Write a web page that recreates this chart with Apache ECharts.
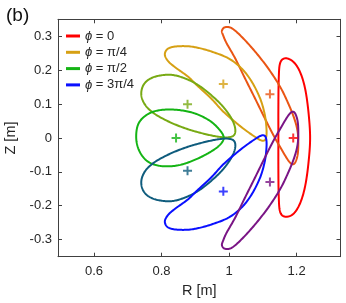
<!DOCTYPE html>
<html>
<head>
<meta charset="utf-8">
<script src="https://cdn.jsdelivr.net/npm/echarts@6/dist/echarts.min.js"></script>
<style>
html,body{margin:0;padding:0;background:#fff;}
#chart{width:346px;height:303px;}
</style>
</head>
<body>
<div id="chart"></div>
<script>
// ---- data (R [m], Z [m]) ----
const seriesNames = ['ϕ = 0','ϕ = π/8','ϕ = π/4','ϕ = 3π/8','ϕ = π/2','ϕ = 5π/8','ϕ = 3π/4','ϕ = 7π/8'];
const legendNames = ['ϕ = 0','ϕ = π/4','ϕ = π/2','ϕ = 3π/4'];
const colors = ['#ff0000','#ea5514','#d6a014','#78aa14','#14b414','#0f5c7d','#0a10ff','#7a1585'];

const loopPhi0 = [[1.146,0],[1.146,0.088],[1.147,0.172],[1.151,0.221],[1.166,0.236],[1.190,0.226],[1.210,0.196],[1.225,0.147],[1.235,0.078],[1.240,0],[1.235,-0.075],[1.225,-0.144],[1.210,-0.194],[1.190,-0.225],[1.166,-0.233],[1.151,-0.218],[1.147,-0.169],[1.146,-0.090]];
const loopPi8 = [[1.116,0.206],[1.151,0.152],[1.175,0.103],[1.193,0.058],[1.203,0.019],[1.205,-0.021],[1.202,-0.055],[1.192,-0.077],[1.178,-0.070],[1.156,-0.035],[1.131,0.009],[1.106,0.058],[1.077,0.117],[1.047,0.177],[1.018,0.236],[0.993,0.280],[0.982,0.305],[0.979,0.318],[0.988,0.328],[1.008,0.325],[1.037,0.300],[1.077,0.256]];
const loopPi4 = [[0.998,0.236],[1.037,0.206],[1.067,0.167],[1.092,0.117],[1.106,0.068],[1.111,0.024],[1.109,-0.001],[1.101,-0.008],[1.087,-0.003],[1.057,0.017],[1.027,0.040],[0.983,0.078],[0.947,0.117],[0.904,0.157],[0.878,0.182],[0.845,0.206],[0.822,0.225],[0.810,0.245],[0.816,0.262],[0.835,0.270],[0.870,0.272],[0.904,0.268],[0.948,0.256]];
const loop3Pi8 = [[0.829,0.187],[0.868,0.177],[0.908,0.157],[0.947,0.127],[0.982,0.093],[1.007,0.058],[1.018,0.029],[1.015,0.009],[0.997,0.002],[0.967,0.004],[0.928,0.012],[0.878,0.026],[0.829,0.045],[0.785,0.068],[0.758,0.090],[0.744,0.112],[0.740,0.134],[0.746,0.156],[0.762,0.173],[0.790,0.184]];
const loopPi2 = [[0.849,0.083],[0.898,0.073],[0.943,0.051],[0.972,0.024],[0.984,0.002],[0.975,-0.018],[0.947,-0.040],[0.898,-0.065],[0.849,-0.081],[0.799,-0.083],[0.760,-0.070],[0.735,-0.040],[0.725,0],[0.732,0.043],[0.760,0.071],[0.799,0.083]];
const loop5Pi8 = [[0.829,-0.187],[0.868,-0.177],[0.908,-0.157],[0.947,-0.127],[0.982,-0.093],[1.007,-0.058],[1.018,-0.029],[1.015,-0.009],[0.997,-0.002],[0.967,-0.004],[0.928,-0.012],[0.878,-0.026],[0.829,-0.045],[0.785,-0.068],[0.758,-0.090],[0.744,-0.112],[0.740,-0.134],[0.746,-0.156],[0.762,-0.173],[0.790,-0.184]];
const loop3Pi4 = [[0.998,-0.236],[1.037,-0.206],[1.067,-0.167],[1.092,-0.117],[1.106,-0.068],[1.111,-0.024],[1.109,0.001],[1.101,0.008],[1.087,0.003],[1.057,-0.017],[1.027,-0.040],[0.983,-0.078],[0.947,-0.117],[0.904,-0.157],[0.878,-0.182],[0.845,-0.206],[0.822,-0.225],[0.810,-0.245],[0.816,-0.262],[0.835,-0.270],[0.870,-0.272],[0.904,-0.268],[0.948,-0.256]];
const loop7Pi8 = [[1.116,-0.206],[1.151,-0.152],[1.175,-0.103],[1.193,-0.058],[1.203,-0.019],[1.205,0.021],[1.202,0.055],[1.192,0.077],[1.178,0.070],[1.156,0.035],[1.131,-0.009],[1.106,-0.058],[1.077,-0.117],[1.047,-0.177],[1.018,-0.236],[0.993,-0.280],[0.982,-0.305],[0.979,-0.318],[0.988,-0.328],[1.008,-0.325],[1.037,-0.300],[1.077,-0.256]];

const axisR = {min: 0.4934, max: 1.33};
const axisZ = {min: -0.3515, max: 0.3515};

const centerR = [1.190, 1.121, 0.983, 0.877, 0.843, 0.877, 0.983, 1.121];
const centerZ = [0.000, 0.130, 0.160, 0.100, 0.000, -0.097, -0.158, -0.130];

const loops = [loopPhi0, loopPi8, loopPi4, loop3Pi8, loopPi2, loop5Pi8, loop3Pi4, loop7Pi8];

// ---- chart ----
const chart = echarts.init(document.getElementById('chart'), null, {renderer: 'canvas'});
const FONT = 'Liberation Sans, Arial, sans-serif';
const AX = '#404040';
const TXT = '#262626';

// closed Catmull-Rom curve through pixel points obtained from the axes' scales
function closedSpline(p, steps) {
  const n = p.length, out = [];
  for (let i = 0; i < n; i++) {
    const p0 = p[(i - 1 + n) % n], p1 = p[i], p2 = p[(i + 1) % n], p3 = p[(i + 2) % n];
    for (let s = 0; s < steps; s++) {
      const t = s / steps, t2 = t * t, t3 = t2 * t;
      const f = k => 0.5 * ((2 * p1[k]) + (-p0[k] + p2[k]) * t +
        (2 * p0[k] - 5 * p1[k] + 4 * p2[k] - p3[k]) * t2 +
        (-p0[k] + 3 * p1[k] - 3 * p2[k] + p3[k]) * t3);
      out.push([f(0), f(1)]);
    }
  }
  out.push(out[0]);
  return out;
}

const loopSeries = loops.map((pts, i) => ({
  type: 'custom',
  name: seriesNames[i],
  data: pts,
  encode: {x: 0, y: 1},
  itemStyle: {color: colors[i]},
  z: 2 + i,
  renderItem: (params, api) => {
    if (params.dataIndex !== 0) return null;
    const px = pts.map(d => api.coord(d));
    return {
      type: 'polyline',
      shape: {points: closedSpline(px, 14)},
      style: {stroke: colors[i], fill: null, lineWidth: 2, lineJoin: 'round'},
      silent: true
    };
  }
}));

const plusPath = 'path://M0,4 L10,4 L10,6.2 L0,6.2 Z M3.9,0 L6.1,0 L6.1,10 L3.9,10 Z';
const markerSeries = {
  type: 'scatter',
  name: 'centers',
  symbol: plusPath,
  symbolSize: 9,
  data: centerR.map((r, i) => ({value: [r, centerZ[i]], itemStyle: {color: colors[i]}})),
  z: 20
};

const commonAxis = {
  type: 'value',
  splitLine: {show: false},
  axisLine: {show: true, onZero: false, lineStyle: {color: AX, width: 1}},
  axisTick: {show: true, inside: true, length: 4, lineStyle: {color: AX}},
};

chart.setOption({
  animation: false,
  backgroundColor: '#ffffff',
  title: {
    text: '(b)', left: 1, top: 1,
    textStyle: {fontFamily: FONT, fontSize: 19, fontWeight: 'normal', color: '#111'}
  },
  legend: {
    data: legendNames,
    orient: 'vertical',
    left: 66, top: 29,
    padding: 0,
    itemGap: 2.3,
    itemWidth: 14,
    itemHeight: 3,
    icon: 'rect',
    formatter: name => '{i|ϕ}' + name.slice(1),
    textStyle: {
      fontFamily: FONT, fontSize: 13, color: TXT, lineHeight: 14,
      rich: {i: {fontStyle: 'italic', fontFamily: FONT, fontSize: 13, color: TXT, lineHeight: 14}}
    }
  },
  grid: {left: 58, right: 5.5, top: 19.3, bottom: 46.3, containLabel: false, outerBoundsMode: 'none'},
  xAxis: [
    Object.assign({}, commonAxis, {
      position: 'bottom', min: axisR.min, max: axisR.max,
      name: 'R [m]', nameLocation: 'middle', nameGap: 27,
      nameTextStyle: {fontFamily: FONT, fontSize: 14.5, color: TXT},
      axisLabel: {fontFamily: FONT, fontSize: 13, color: TXT, margin: 8, showMinLabel: false, showMaxLabel: false}
    }),
    Object.assign({}, commonAxis, {
      position: 'top', min: axisR.min, max: axisR.max,
      axisLabel: {show: false}
    })
  ],
  yAxis: [
    Object.assign({}, commonAxis, {
      position: 'left', min: axisZ.min, max: axisZ.max,
      name: 'Z [m]', nameLocation: 'middle', nameGap: 39, nameRotate: 90,
      nameTextStyle: {fontFamily: FONT, fontSize: 14.5, color: TXT},
      axisLabel: {fontFamily: FONT, fontSize: 13, color: TXT, margin: 6, showMinLabel: false, showMaxLabel: false}
    }),
    Object.assign({}, commonAxis, {
      position: 'right', min: axisZ.min, max: axisZ.max,
      axisLabel: {show: false}
    })
  ],
  series: loopSeries.concat([markerSeries])
});
</script>
</body>
</html>
